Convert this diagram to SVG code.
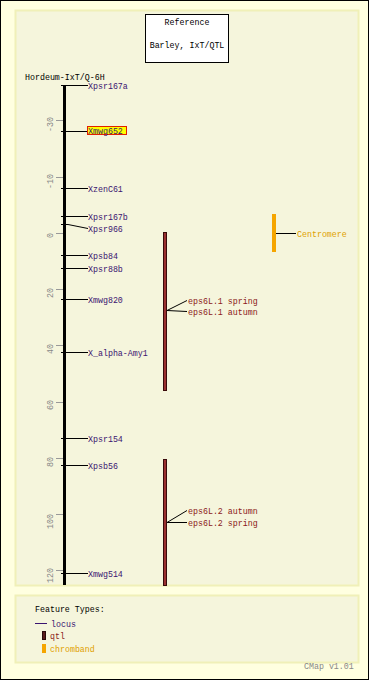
<svg xmlns="http://www.w3.org/2000/svg" width="369" height="680" viewBox="0 0 369 680">
<style>
text{font-family:"Liberation Mono","DejaVu Sans Mono",monospace;font-size:8.3px}
.loc{fill:#3a1470}
.qtl{fill:#8b1a1a}
.cen{fill:#e0a000}
.blk{fill:#000}
.scl{fill:#888}
.ln{stroke:#000;stroke-width:1;fill:none}
.tk{stroke:#999;stroke-width:1}
</style>
<rect x="0.5" y="0.5" width="368" height="679" fill="#ffffe0" stroke="#000"/>
<rect x="15.5" y="10.5" width="343" height="575" fill="#f5f5dc" stroke="#f0f0b8" stroke-width="2"/>
<rect x="15.5" y="595.5" width="343" height="67" fill="#f5f5dc" stroke="#f0f0b8" stroke-width="2"/>
<g id="title">
<rect x="145.5" y="14.5" width="83" height="48" fill="#fff" stroke="#000"/>
<text x="187" y="25" text-anchor="middle" class="blk">Reference</text>
<text x="187" y="48" text-anchor="middle" class="blk">Barley, IxT/QTL</text>
</g>
<g id="map">
<text x="25" y="80" class="blk">Hordeum-IxT/Q-6H</text>
<rect x="63" y="85" width="3" height="500" fill="#000"/>
<line x1="61" y1="85.5" x2="68" y2="85.5" class="ln"/>
</g>
<g id="scale">
<line x1="56" y1="120.5" x2="63" y2="120.5" class="tk"/>
<line x1="56" y1="177.5" x2="63" y2="177.5" class="tk"/>
<line x1="56" y1="233.5" x2="63" y2="233.5" class="tk"/>
<line x1="56" y1="289.5" x2="63" y2="289.5" class="tk"/>
<line x1="56" y1="345.5" x2="63" y2="345.5" class="tk"/>
<line x1="56" y1="402.5" x2="63" y2="402.5" class="tk"/>
<line x1="56" y1="458.5" x2="63" y2="458.5" class="tk"/>
<line x1="56" y1="514.5" x2="63" y2="514.5" class="tk"/>
<line x1="56" y1="570.5" x2="63" y2="570.5" class="tk"/>
<text transform="translate(53,117) rotate(-90)" text-anchor="end" class="scl">-30</text>
<text transform="translate(53,174) rotate(-90)" text-anchor="end" class="scl">-10</text>
<text transform="translate(53,233) rotate(-90)" text-anchor="end" class="scl">0</text>
<text transform="translate(53,288) rotate(-90)" text-anchor="end" class="scl">20</text>
<text transform="translate(53,344) rotate(-90)" text-anchor="end" class="scl">40</text>
<text transform="translate(53,400) rotate(-90)" text-anchor="end" class="scl">60</text>
<text transform="translate(53,457) rotate(-90)" text-anchor="end" class="scl">80</text>
<text transform="translate(53,514) rotate(-90)" text-anchor="end" class="scl">100</text>
<text transform="translate(53,568) rotate(-90)" text-anchor="end" class="scl">120</text>
</g>
<g id="connectors">
<line x1="66" y1="85.5" x2="88" y2="85.5" class="ln"/>
<line x1="61" y1="131.5" x2="88" y2="131.5" class="ln"/>
<line x1="61" y1="188.5" x2="88" y2="188.5" class="ln"/>
<line x1="61" y1="216.5" x2="88" y2="216.5" class="ln"/>
<line x1="61" y1="224.5" x2="68" y2="224.5" class="ln"/>
<line x1="68" y1="224.5" x2="88" y2="228.5" class="ln"/>
<line x1="61" y1="255.5" x2="88" y2="255.5" class="ln"/>
<line x1="61" y1="268.5" x2="88" y2="268.5" class="ln"/>
<line x1="61" y1="299.5" x2="88" y2="299.5" class="ln"/>
<line x1="61" y1="352.5" x2="88" y2="352.5" class="ln"/>
<line x1="61" y1="438.5" x2="88" y2="438.5" class="ln"/>
<line x1="61" y1="465.5" x2="88" y2="465.5" class="ln"/>
<line x1="61" y1="573.5" x2="88" y2="573.5" class="ln"/>
<line x1="167" y1="310.5" x2="187" y2="300.5" class="ln"/>
<line x1="167" y1="310.5" x2="187" y2="311.5" class="ln"/>
<line x1="167" y1="522.5" x2="187" y2="510.5" class="ln"/>
<line x1="167" y1="522.5" x2="187" y2="522.5" class="ln"/>
<line x1="276" y1="233.5" x2="296" y2="233.5" class="ln"/>
</g>
<g id="Xpsr167a"><text x="88" y="88.5" class="loc">Xpsr167a</text></g>
<g id="Xmwg652"><rect x="87.5" y="126.5" width="39" height="8" fill="#ffff00" stroke="#e02000"/><text x="88" y="134" class="loc">Xmwg652</text></g>
<g id="XzenC61"><text x="88" y="191.5" class="loc">XzenC61</text></g>
<g id="Xpsr167b"><text x="88" y="219.5" class="loc">Xpsr167b</text></g>
<g id="Xpsr966"><text x="88" y="231.5" class="loc">Xpsr966</text></g>
<g id="Xpsb84"><text x="88" y="258.5" class="loc">Xpsb84</text></g>
<g id="Xpsr88b"><text x="88" y="271.5" class="loc">Xpsr88b</text></g>
<g id="Xmwg820"><text x="88" y="302.5" class="loc">Xmwg820</text></g>
<g id="X_alpha-Amy1"><text x="88" y="355.5" class="loc">X_alpha-Amy1</text></g>
<g id="Xpsr154"><text x="88" y="441.5" class="loc">Xpsr154</text></g>
<g id="Xpsb56"><text x="88" y="468.5" class="loc">Xpsb56</text></g>
<g id="Xmwg514"><text x="88" y="576.5" class="loc">Xmwg514</text></g>
<g id="qtl1">
<rect x="163.5" y="232.5" width="3" height="158" fill="#993030" stroke="#3a0a0a"/>
<text x="188" y="303.5" class="qtl">eps6L.1 spring</text>
<text x="188" y="314.5" class="qtl">eps6L.1 autumn</text>
</g>
<g id="qtl2">
<rect x="163.5" y="459.5" width="3" height="126" fill="#993030" stroke="#3a0a0a"/>
<text x="188" y="513.5" class="qtl">eps6L.2 autumn</text>
<text x="188" y="525.5" class="qtl">eps6L.2 spring</text>
</g>
<g id="centromere">
<rect x="272" y="214" width="4" height="38" fill="#f5a500"/>
<text x="297" y="236.5" class="cen">Centromere</text>
</g>
<g id="legend">
<text x="35" y="612" class="blk">Feature Types:</text>
<line x1="35" y1="623.5" x2="47" y2="623.5" stroke="#3a1470"/>
<text x="51" y="626.5" class="loc">locus</text>
<rect x="42.5" y="631.5" width="3" height="8" fill="#5a1c1c" stroke="#2a0a0a"/>
<text x="50" y="639" class="qtl">qtl</text>
<rect x="42" y="644" width="4" height="9" fill="#f5a500"/>
<text x="50" y="652" class="cen">chromband</text>
</g>
<text x="304" y="669" class="scl">CMap v1.01</text>
</svg>
